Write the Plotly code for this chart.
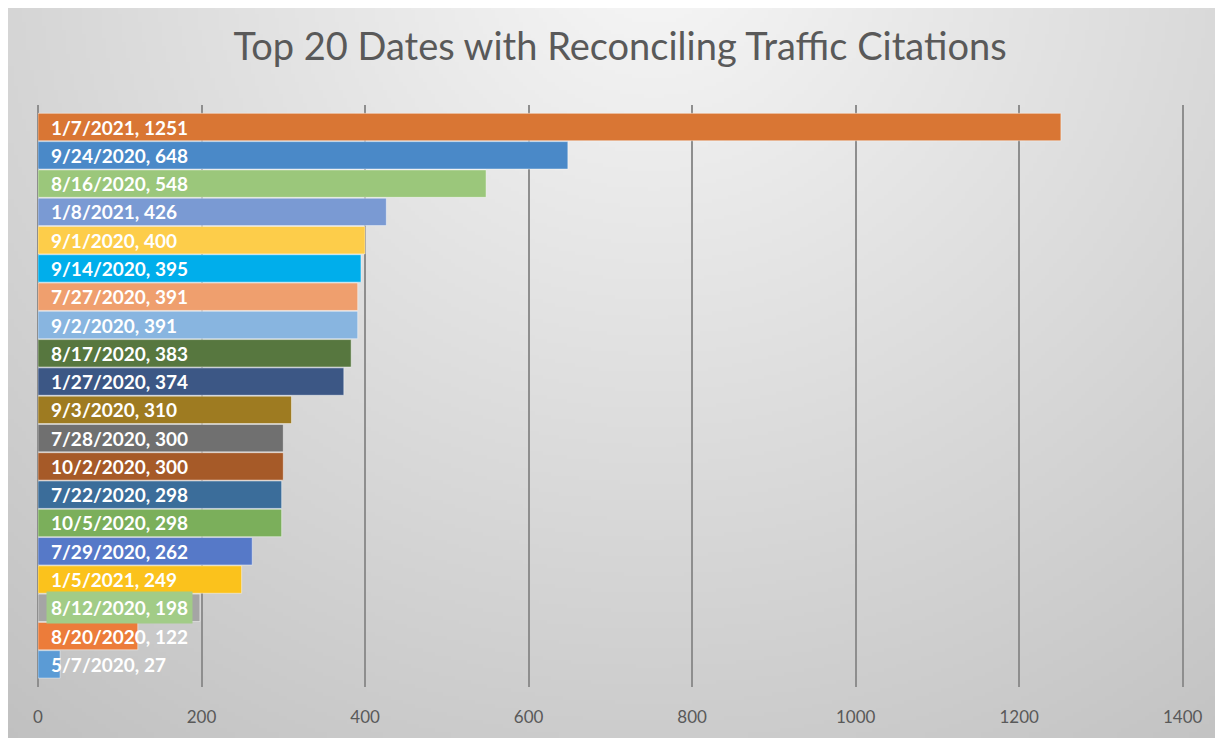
import base64
import struct
import zlib

import numpy as np
import plotly.graph_objects as go

# ---------------- data ----------------
dates = ["1/7/2021", "9/24/2020", "8/16/2020", "1/8/2021", "9/1/2020",
         "9/14/2020", "7/27/2020", "9/2/2020", "8/17/2020", "1/27/2020",
         "9/3/2020", "7/28/2020", "10/2/2020", "7/22/2020", "10/5/2020",
         "7/29/2020", "1/5/2021", "8/12/2020", "8/20/2020", "5/7/2020"]
citations = [1251, 648, 548, 426, 400, 395, 391, 391, 383, 374,
             310, 300, 300, 298, 298, 262, 249, 198, 122, 27]
x_ticks = [0, 200, 400, 600, 800, 1000, 1200, 1400]

# ---------------- styles ----------------
bar_colors = ["#D97634", "#4A89C8", "#9BC77B", "#7A9AD3", "#FDCD4A",
              "#00AEEB", "#EF9F6E", "#88B5E0", "#57773F", "#3C5785",
              "#9E7B21", "#707070", "#A65A28", "#3B6D9A", "#7BAF5B",
              "#5679C8", "#FBC21C", "#A5A5A5", "#EC7C3A", "#5B9BD5"]
label_bg = {"8/12/2020": "#A2CC87"}

OFF = 8  # page body margin
W, H = 1223 - OFF, 738 - OFF
L, R, T, B = 38 - OFF, 37, 105 - OFF, 51
X_MAX = 1404


# ---------------- gradient background (PNG built in memory) ----------------
def gradient_png():
    s = 4
    w, h = W // s, H // s
    yy, xx = np.mgrid[0:h, 0:w].astype(float)
    px = xx * s + OFF
    py = yy * s + OFF
    d = np.sqrt((px - 650) ** 2 + ((py + 50) * 1.05) ** 2)
    v = np.clip(247 - 0.052 * d, 185, 250).astype(np.uint8)
    raw = b"".join(b"\x00" + v[i].tobytes() for i in range(h))

    def chunk(tag, data):
        c = struct.pack(">I", len(data)) + tag + data
        return c + struct.pack(">I", zlib.crc32(tag + data) & 0xFFFFFFFF)

    png = b"\x89PNG\r\n\x1a\n"
    png += chunk(b"IHDR", struct.pack(">IIBBBBB", w, h, 8, 0, 0, 0, 0))
    png += chunk(b"IDAT", zlib.compress(raw, 9))
    png += chunk(b"IEND", b"")
    return "data:image/png;base64," + base64.b64encode(png).decode()


pw = W - L - R
ph = H - T - B

fig = go.Figure()
fig.add_trace(go.Bar(
    x=citations,
    y=dates,
    orientation="h",
    marker=dict(color=bar_colors,
                line=dict(color="rgba(255,255,255,0.45)", width=1)),
    hoverinfo="x+y",
))

annotations = []
for d, v in zip(dates, citations):
    annotations.append(dict(
        x=0, y=d, xref="x", yref="y",
        text=f"{d}, {v}",
        showarrow=False,
        xanchor="left", yanchor="middle",
        xshift=8,
        borderpad=4,
        bgcolor=label_bg.get(d, "rgba(0,0,0,0)"),
        font=dict(family="Lato", size=19, color="white", weight="bold"),
    ))

fig.update_layout(
    width=W, height=H,
    margin=dict(l=L, r=R, t=T, b=B, pad=0),
    paper_bgcolor="white",
    plot_bgcolor="rgba(0,0,0,0)",
    showlegend=False,
    bargap=0.03,
    title=dict(
        text="Top 20 Dates with Reconciling Traffic Citations",
        x=(620 - OFF - L) / pw, xanchor="center", xref="paper",
        y=1 - (47 - OFF) / H, yanchor="middle", yref="container",
        font=dict(family="Lato", size=38, color="#595959"),
    ),
    xaxis=dict(
        range=[0, X_MAX],
        tickvals=x_ticks,
        ticktext=[str(t) for t in x_ticks],
        showgrid=True, gridcolor="#8E8E8E", gridwidth=2,
        zeroline=True, zerolinecolor="#8E8E8E", zerolinewidth=2,
        showline=False,
        ticks="", ticklabelstandoff=18,
        tickfont=dict(family="Lato", size=17, color="#595959"),
        fixedrange=True,
    ),
    yaxis=dict(
        type="category",
        categoryorder="array", categoryarray=dates,
        range=[19.8, -0.78],
        showticklabels=False, showgrid=False, zeroline=False,
        showline=False, ticks="",
        fixedrange=True,
    ),
    annotations=annotations,
    images=[dict(
        source=gradient_png(),
        xref="paper", yref="paper",
        x=-L / pw, y=1 + T / ph, sizex=W / pw, sizey=H / ph,
        xanchor="left", yanchor="top",
        sizing="stretch", layer="below",
    )],
)

fig.write_html("out.html")
